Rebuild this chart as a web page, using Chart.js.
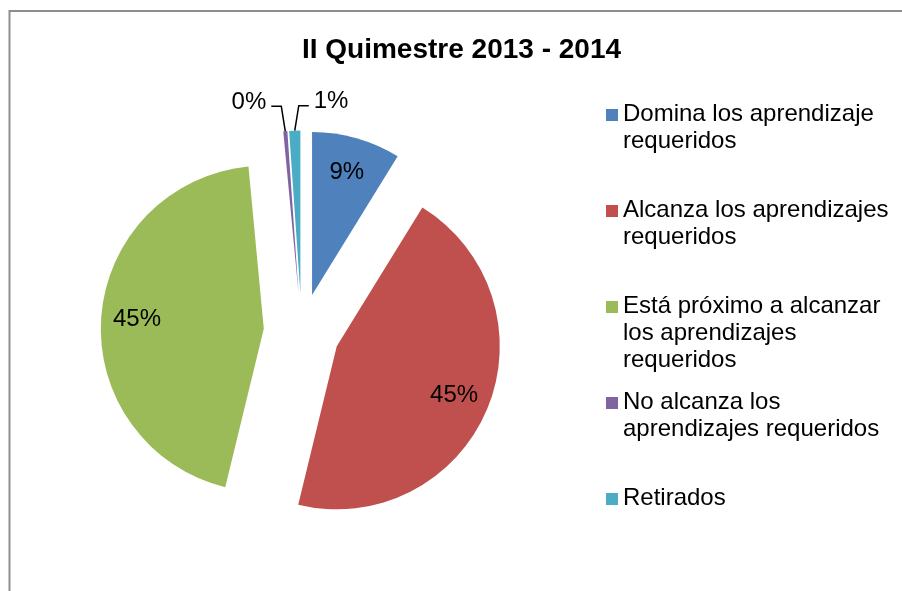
<!DOCTYPE html>
<html>
<head>
<meta charset="utf-8">
<title>II Quimestre 2013 - 2014</title>
<script src="https://cdn.jsdelivr.net/npm/chart.js@4.4.0/dist/chart.umd.min.js"></script>
<style>
    html, body { margin: 0; padding: 0; background: #fff; }
    #wrap { position: relative; width: 902px; height: 591px; }
</style>
</head>
<body>
<div id="wrap"><canvas id="quimestre-chart" width="902" height="591"></canvas></div>
<script>
// Chart data
const chartTitle = "II Quimestre 2013 - 2014";
const categories = [
    "Domina los aprendizaje requeridos",
    "Alcanza los aprendizajes requeridos",
    "Está próximo a alcanzar los aprendizajes requeridos",
    "No alcanza los aprendizajes requeridos",
    "Retirados"
];
const percentages = [8.8, 45.0, 44.7, 0.4, 1.1];
const sliceColours = ["#4F81BD", "#C0504D", "#9BBB59", "#8064A2", "#4BACC6"];

// Look & feel
const fontFamily = "'Liberation Sans', Arial, sans-serif";
const explodeBy = 38;
const pieRadius = 163;

/*
* Break a legend label into lines no wider than maxWidth
*/
function WrapText(ctx, text, maxWidth) {
    var words = text.split(" ");
    var lines = [];
    var line = "";
    words.forEach(function(word) {
        var test = line == "" ? word : line + " " + word;
        if (ctx.measureText(test).width > maxWidth && line != "") {
            lines.push(line);
            line = word;
        } else {
            line = test;
        }
    });
    if (line != "") lines.push(line);
    return lines;
}

// Offset of an exploded slice from the pie centre
function SliceShift(arc) {
    var mid = (arc.startAngle + arc.endAngle) / 2;
    return { x: Math.cos(mid) * explodeBy, y: Math.sin(mid) * explodeBy, mid: mid };
}

// White background, frame lines and title
const framePlugin = {
    id: 'frame',
    beforeDraw: function(chart) {
        var ctx = chart.ctx;
        ctx.save();
        ctx.fillStyle = "#fff";
        ctx.fillRect(0, 0, chart.width, chart.height);
        ctx.strokeStyle = "#8e8e8e";
        ctx.lineWidth = 2;
        ctx.beginPath();
        ctx.moveTo(9.5, chart.height);
        ctx.lineTo(9.5, 11);
        ctx.lineTo(chart.width, 11);
        ctx.stroke();

        ctx.fillStyle = "#000";
        ctx.font = "bold 28px " + fontFamily;
        ctx.textAlign = "center";
        ctx.textBaseline = "alphabetic";
        ctx.fillText(chartTitle, 461.5, 58);
        ctx.restore();
    }
};

// Draw every slice pulled out from the centre
const explodePlugin = {
    id: 'explode',
    beforeDatasetDraw: function(chart, args) {
        var ctx = chart.ctx;
        args.meta.data.forEach(function(arc) {
            var s = SliceShift(arc);
            ctx.save();
            ctx.translate(s.x, s.y);
            arc.draw(ctx);
            ctx.restore();
        });
        return false;
    }
};

// Percentage labels, with leader lines for the tiny slices
const labelPlugin = {
    id: 'sliceLabels',
    afterDatasetsDraw: function(chart) {
        var ctx = chart.ctx;
        var meta = chart.getDatasetMeta(0);
        ctx.save();
        ctx.font = "24px " + fontFamily;
        ctx.fillStyle = "#000";
        ctx.strokeStyle = "#000";
        ctx.lineWidth = 1.5;
        ctx.textBaseline = "middle";
        meta.data.forEach(function(arc, i) {
            var s = SliceShift(arc);
            var text = Math.round(percentages[i]) + "%";
            var cx = arc.x + s.x;
            var cy = arc.y + s.y;
            if (percentages[i] >= 5) {
                ctx.textAlign = "center";
                ctx.fillText(text, cx + Math.cos(s.mid) * arc.outerRadius * 0.78,
                                   cy + Math.sin(s.mid) * arc.outerRadius * 0.78);
            } else {
                var dir = (i == meta.data.length - 1) ? 1 : -1;
                var px = cx + Math.cos(s.mid) * arc.outerRadius;
                var py = cy + Math.sin(s.mid) * arc.outerRadius;
                var qx = px + dir * 4;
                var qy = py - 25;
                ctx.beginPath();
                ctx.moveTo(px, py);
                ctx.lineTo(qx, qy);
                ctx.lineTo(qx + dir * 10, qy);
                ctx.stroke();
                ctx.textAlign = dir > 0 ? "left" : "right";
                ctx.fillText(text, qx + dir * 15, qy - 4);
            }
        });
        ctx.restore();
    }
};

// Legend on the right, labels wrapped like the original
const legendPlugin = {
    id: 'sideLegend',
    afterDraw: function(chart) {
        var ctx = chart.ctx;
        ctx.save();
        ctx.font = "24px " + fontFamily;
        ctx.textAlign = "left";
        ctx.textBaseline = "alphabetic";
        categories.forEach(function(name, i) {
            var top = 109 + i * 96;
            ctx.fillStyle = sliceColours[i];
            ctx.fillRect(606, top, 12, 12);
            ctx.fillStyle = "#000";
            var lines = WrapText(ctx, name, 272);
            lines.forEach(function(line, j) {
                ctx.fillText(line, 623, top + 12 + j * 27);
            });
        });
        ctx.restore();
    }
};

window.onload = function() {
    var area = document.getElementById('quimestre-chart').getContext('2d');
    new Chart(area, {
        type: 'pie',
        data: {
            labels: categories,
            datasets: [{
                data: percentages,
                backgroundColor: sliceColours,
                borderWidth: 0
            }]
        },
        options: {
            responsive: false,
            devicePixelRatio: 1,
            animation: false,
            radius: pieRadius,
            layout: {
                padding: { left: 10, right: 308.6, top: 76, bottom: 3.8 }
            },
            plugins: {
                legend: { display: false },
                title: { display: false },
                tooltip: { enabled: false }
            }
        },
        plugins: [framePlugin, explodePlugin, labelPlugin, legendPlugin]
    });
}
</script>
</body>
</html>
